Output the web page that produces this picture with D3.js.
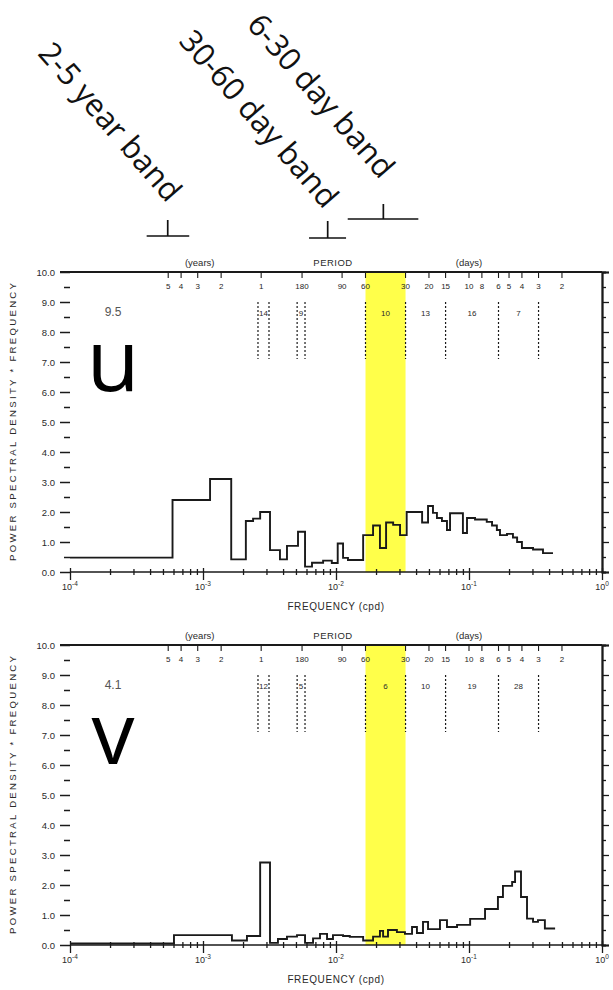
<!DOCTYPE html>
<html><head><meta charset="utf-8">
<script src="https://cdn.jsdelivr.net/npm/d3@7"></script>
<style>body{margin:0;background:#fff}svg{display:block}</style>
</head><body><svg id="c" width="613" height="990"></svg>
<script>
// ---------- DATA ----------
// U component: step edges (cpd) and spectral values (power * frequency)
const uEdges = [1e-4, 5.9e-4, 1.13e-3, 1.63e-3, 2.1e-3, 2.38e-3, 2.69e-3, 3.19e-3, 3.79e-3, 4.28e-3, 5.18e-3, 5.85e-3, 6.6e-3, 8.0e-3, 9.3e-3, 1.03e-2, 1.13e-2, 1.23e-2, 1.6e-2, 1.9e-2, 2.14e-2, 2.38e-2, 2.69e-2, 3.03e-2, 3.4e-2, 4.44e-2, 4.92e-2, 5.36e-2, 5.74e-2, 6.26e-2, 6.83e-2, 7.2e-2, 9.0e-2, 9.66e-2, 0.111, 0.136, 0.149, 0.162, 0.171, 0.193, 0.214, 0.23, 0.25, 0.303, 0.36, 0.428];
const uValues = [0.48, 2.4, 3.1, 0.42, 1.7, 1.78, 2.0, 0.73, 0.42, 0.87, 1.34, 0.18, 0.31, 0.38, 0.3, 0.95, 0.47, 0.4, 1.23, 1.55, 0.8, 1.65, 1.57, 1.23, 2.0, 1.65, 2.2, 1.97, 1.8, 1.7, 1.4, 1.96, 1.3, 1.8, 1.75, 1.67, 1.55, 1.4, 1.23, 1.27, 1.15, 1.0, 0.8, 0.75, 0.63];
// V component
const vEdges = [1e-4, 6.05e-4, 1.65e-3, 2.14e-3, 2.69e-3, 3.19e-3, 3.66e-3, 4.28e-3, 5.09e-3, 5.85e-3, 6.72e-3, 7.58e-3, 8.56e-3, 9.49e-3, 1.13e-2, 1.27e-2, 1.6e-2, 1.9e-2, 2.14e-2, 2.26e-2, 2.46e-2, 2.87e-2, 3.3e-2, 3.73e-2, 4.06e-2, 4.51e-2, 4.92e-2, 6.05e-2, 6.83e-2, 8.13e-2, 0.102, 0.132, 0.165, 0.18, 0.211, 0.222, 0.246, 0.273, 0.303, 0.33, 0.372, 0.444];
const vValues = [0.05, 0.33, 0.15, 0.3, 2.75, 0.07, 0.2, 0.28, 0.33, 0.07, 0.22, 0.37, 0.2, 0.33, 0.3, 0.27, 0.15, 0.28, 0.47, 0.28, 0.5, 0.43, 0.37, 0.6, 0.4, 0.77, 0.53, 0.83, 0.6, 0.67, 0.87, 1.2, 1.6, 1.97, 2.1, 2.45, 1.6, 0.88, 0.77, 0.83, 0.55];

const yTicks = [0,1,2,3,4,5,6,7,8,9,10];
const xDecades = [1e-4, 1e-3, 1e-2, 1e-1, 1];
const xExponents = ["-4", "-3", "-2", "-1", "0"];
const periodYears = [5, 4, 3, 2, 1];
const periodDays = [180, 90, 60, 30, 20, 15, 10, 8, 6, 5, 4, 3, 2];
const bandLinePeriods = [386, 319, 196, 171, 60, 30, 15, 6, 3]; // days
const bandLabelPairs = [[0,1],[2,3],[4,5],[5,6],[6,7],[7,8]];
const uPercents = ["14", "9", "10", "13", "16", "7"];
const vPercents = ["12", "5", "6", "10", "19", "28"];
const highlightPeriods = [60, 30]; // days
const panelNames = ["u", "v"];
const panelTotals = ["9.5", "4.1"];
const bandNames = ["2-5 year band", "30-60 day band", "6-30 day band"];
const bandBrackets = [[3.77e-4, 5.43e-4, 7.88e-4], [6.27e-3, 8.66e-3, 1.19e-2], [1.225e-2, 2.27e-2, 4.16e-2]];

// ---------- LAYOUT ----------
const svg = d3.select("#c");
const x = d3.scaleLog().domain([1e-4, 1]).range([70, 602]);
const panels = [
  {top: 272, bottom: 572, edges: uEdges, values: uValues, pct: uPercents},
  {top: 645, bottom: 945, edges: vEdges, values: vValues, pct: vPercents}
];
const ff = "'Liberation Sans', Arial, sans-serif";
const ink = "#1a1a1a";

panels.forEach((p, pi) => {
  const y = d3.scaleLinear().domain([0, 10]).range([p.bottom, p.top]);
  const g = svg.append("g");

  // highlight band
  g.append("rect")
    .attr("x", x(1 / highlightPeriods[0])).attr("y", y(10))
    .attr("width", x(1 / highlightPeriods[1]) - x(1 / highlightPeriods[0]))
    .attr("height", y(0) - y(10))
    .attr("fill", "#ffff4a");

  // step line
  const pts = p.values.map((v, i) => [p.edges[i], v]);
  pts.push([p.edges[p.edges.length - 1], p.values[p.values.length - 1]]);
  const line = d3.line().x(d => x(d[0])).y(d => y(d[1])).curve(d3.curveStepAfter);
  g.append("path").attr("d", line(pts)).attr("fill", "none")
    .attr("stroke", ink).attr("stroke-width", 1.9);

  // left axis
  const la = g.append("g").attr("transform", `translate(${x(1e-4)},0)`);
  la.call(d3.axisLeft(y).tickValues(yTicks).tickFormat(d3.format(".1f")).tickSize(10).tickPadding(5));
  la.selectAll("text").attr("font-family", ff).attr("font-size", 9.5).attr("fill", "#2a2a2a");
  la.append("g").call(d3.axisLeft(y).tickValues(d3.range(0.5, 10, 1)).tickFormat("").tickSize(6));
  la.selectAll("path.domain").attr("stroke-width", 2.2).attr("stroke", ink);
  la.selectAll("line").attr("stroke", ink).attr("stroke-width", 1.5);
  la.selectAll("g > g > path.domain").remove();

  // right axis
  const ra = g.append("g").attr("transform", `translate(${x(1)},0)`);
  ra.call(d3.axisRight(y).tickValues(yTicks).tickFormat("").tickSize(7));
  ra.append("g").call(d3.axisRight(y).tickValues(d3.range(0.5, 10, 1)).tickFormat("").tickSize(4));
  ra.selectAll("path.domain").attr("stroke", ink).attr("stroke-width", 1.8);
  ra.selectAll("line").attr("stroke", ink).attr("stroke-width", 1.3);

  // top frame
  g.append("line").attr("x1", x(1e-4) - 10).attr("x2", x(1)).attr("y1", y(10)).attr("y2", y(10))
    .attr("stroke", ink).attr("stroke-width", 1.8);

  // bottom axis
  const minor = [];
  for (let d = -4; d < 0; d++) for (let k = 2; k <= 9; k++) minor.push(k * Math.pow(10, d));
  const ba = g.append("g").attr("transform", `translate(0,${y(0)})`);
  ba.append("g").attr("transform", "translate(0,-3)")
    .call(d3.axisBottom(x).tickValues(minor).tickFormat("").tickSize(6));
  ba.append("g").attr("transform", "translate(0,-4)")
    .call(d3.axisBottom(x).tickValues(xDecades).tickFormat("").tickSize(12));
  ba.selectAll("path.domain").remove();
  ba.append("line").attr("x1", x(1e-4)).attr("x2", x(1)).attr("stroke", ink).attr("stroke-width", 2.2);
  ba.selectAll("line").attr("stroke", ink).attr("stroke-width", 1.3);
  const xl = ba.selectAll("text.xl").data(xDecades).join("text").attr("class", "xl")
    .attr("x", d => x(d)).attr("y", 18).attr("text-anchor", "middle")
    .attr("font-family", ff).attr("font-size", 9).attr("fill", "#2a2a2a");
  xl.append("tspan").text("10");
  xl.append("tspan").attr("dy", -4).attr("font-size", 6.5).text((d, i) => xExponents[i]);

  g.append("text").attr("x", x(0.01)).attr("y", y(0) + 38).attr("text-anchor", "middle")
    .attr("font-family", ff).attr("font-size", 10).attr("fill", "#2a2a2a").attr("letter-spacing", 0.6)
    .text("FREQUENCY (cpd)");

  // y title
  g.append("text").attr("transform", `translate(16,${(p.top + p.bottom) / 2}) rotate(-90)`)
    .attr("text-anchor", "middle").attr("font-family", ff).attr("font-size", 9.6)
    .attr("fill", "#2a2a2a").attr("textLength", 278).attr("lengthAdjust", "spacing")
    .text("POWER SPECTRAL DENSITY * FREQUENCY");

  // period ticks & labels
  const periods = periodYears.map(v => ({f: 1 / (v * 365.25), t: String(v)}))
    .concat(periodDays.map(v => ({f: 1 / v, t: String(v)})));
  g.selectAll("line.pt").data(periods).join("line").attr("class", "pt")
    .attr("x1", d => x(d.f)).attr("x2", d => x(d.f))
    .attr("y1", y(10)).attr("y2", y(10) + 6).attr("stroke", ink).attr("stroke-width", 1.1);
  g.selectAll("text.pl").data(periods).join("text").attr("class", "pl")
    .attr("x", d => x(d.f)).attr("y", y(10) + 17).attr("text-anchor", "middle")
    .attr("font-family", ff).attr("font-size", 8).attr("fill", "#1e1e1e").text(d => d.t);
  g.append("text").attr("x", x(1 / (3 * 365.25)) + 2).attr("y", y(10) - 6).attr("text-anchor", "middle")
    .attr("font-family", ff).attr("font-size", 9.5).attr("fill", "#2a2a2a").text("(years)");
  g.append("text").attr("x", x(0.0095)).attr("y", y(10) - 6).attr("text-anchor", "middle")
    .attr("font-family", ff).attr("font-size", 9.5).attr("fill", "#2a2a2a").attr("letter-spacing", 0.5).text("PERIOD");
  g.append("text").attr("x", x(0.1)).attr("y", y(10) - 6).attr("text-anchor", "middle")
    .attr("font-family", ff).attr("font-size", 9.5).attr("fill", "#2a2a2a").text("(days)");

  // band dashed lines
  g.selectAll("line.bl").data(bandLinePeriods).join("line").attr("class", "bl")
    .attr("x1", d => x(1 / d)).attr("x2", d => x(1 / d))
    .attr("y1", y(9.0)).attr("y2", y(7.1))
    .attr("stroke", ink).attr("stroke-width", 1.2).attr("stroke-dasharray", "2,2");
  g.selectAll("text.bp").data(bandLabelPairs).join("text").attr("class", "bp")
    .attr("x", d => (x(1 / bandLinePeriods[d[0]]) + x(1 / bandLinePeriods[d[1]])) / 2)
    .attr("y", y(8.55)).attr("text-anchor", "middle")
    .attr("font-family", ff).attr("font-size", 8).attr("fill", "#2a2a2a")
    .text((d, i) => p.pct[i]);

  // total and panel name
  g.append("text").attr("x", 113).attr("y", y(8.55)).attr("text-anchor", "middle")
    .attr("font-family", ff).attr("font-size", 12).attr("fill", "#555").text(panelTotals[pi]);
  g.append("text").attr("x", 113).attr("y", y(6.05)).attr("text-anchor", "middle")
    .attr("font-family", "'Open Sans', sans-serif").attr("font-size", 86).attr("fill", "#000")
    .text(panelNames[pi]);
});

// top band annotations
const topY = panels[0].top;
const annot = [
  {cx: 111, cy: 121, off: 36, h: 16},
  {cx: 260, cy: 118, off: 34, h: 17},
  {cx: 322, cy: 95, off: 53, h: 15}
];
bandNames.forEach((name, i) => {
  const a = annot[i], b = bandBrackets[i];
  svg.append("text").attr("transform", `translate(${a.cx},${a.cy}) rotate(49)`)
    .attr("text-anchor", "middle").attr("dominant-baseline", "central")
    .attr("font-family", "'Open Sans', sans-serif").attr("font-size", 31).attr("fill", "#111")
    .text(name);
  const yy = topY - a.off;
  svg.append("line").attr("x1", x(b[0])).attr("x2", x(b[2])).attr("y1", yy).attr("y2", yy)
    .attr("stroke", "#111").attr("stroke-width", 1.7);
  svg.append("line").attr("x1", x(b[1])).attr("x2", x(b[1])).attr("y1", yy - a.h).attr("y2", yy)
    .attr("stroke", "#111").attr("stroke-width", 1.7);
});
</script></body></html>
